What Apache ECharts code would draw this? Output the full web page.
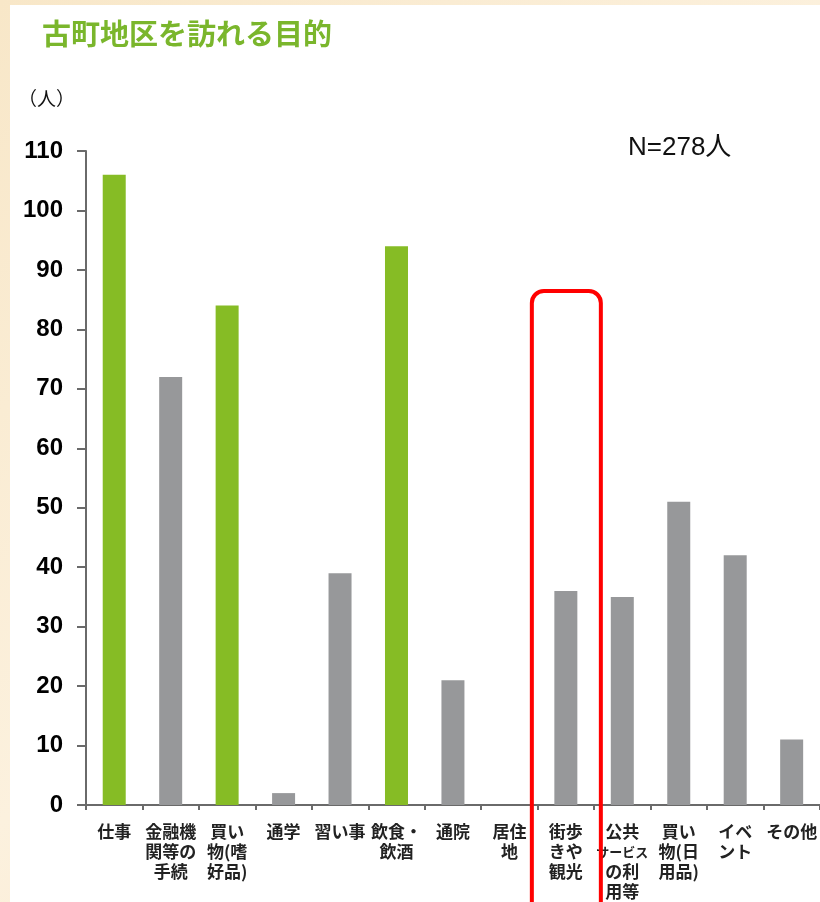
<!DOCTYPE html>
<html>
<head>
<meta charset="utf-8">
<script src="https://cdn.jsdelivr.net/npm/echarts@6/dist/echarts.min.js"></script>
<style>
  html, body { margin: 0; padding: 0; }
  #chart { width: 820px; height: 902px; }
</style>
</head>
<body>
<div id="chart"></div>
<script>
// 古町地区を訪れる目的（複数回答、N=278人）
const categories = [
  '仕事', '金融機\n関等の\n手続', '買い\n物(嗜\n好品)', '通学', '習い事',
  '飲食・\n飲酒', '通院', '居住\n地', '街歩\nきや\n観光',
  '公共\nサービス\nの利\n用等', '買い\n物(日\n用品)', 'イベ\nント', 'その他'
];
const counts = [106, 72, 84, 2, 39, 94, 21, 0, 36, 35, 51, 42, 11];
// 緑で強調する項目
const featured = ['仕事', '買い\n物(嗜\n好品)', '飲食・\n飲酒'];
// 赤枠で囲む項目
const framed = '街歩\nきや\n観光';
const yTicks = { min: 0, max: 110, step: 10 };

const GREEN = '#86bc25';
const GREY = '#97989a';
const AXIS = '#6a6a6a';

const chart = echarts.init(document.getElementById('chart'), null, { renderer: 'canvas' });

const option = {
  backgroundColor: {
    type: 'linear', x: 0, y: 0, x2: 1, y2: 1,
    colorStops: [
      { offset: 0, color: '#f8e7c8' },
      { offset: 0.5, color: '#fcf1de' },
      { offset: 1, color: '#f7e5c4' }
    ]
  },
  animation: false,
  textStyle: { fontFamily: '"Liberation Sans", "Noto Sans CJK JP", sans-serif' },
  graphic: [
    { type: 'rect', z: -10, silent: true,
      shape: { x: 10, y: 5, width: 820, height: 910 },
      style: { fill: '#ffffff' } },
    { type: 'text', left: 42, top: 19,
      style: { text: '古町地区を訪れる目的', fill: '#7ab62c',
        font: 'bold 29px "Noto Sans CJK JP", sans-serif' } },
    { type: 'text', left: 18, top: 89,
      style: { text: '（人）', fill: '#111',
        font: '19px "Noto Sans CJK JP", sans-serif' } },
    { type: 'text', left: 628, top: 135,
      style: { text: 'N=278人', fill: '#111',
        font: '26px "Liberation Sans", "Noto Sans CJK JP", sans-serif' } }
  ],
  grid: { left: 86, top: 151, width: 738, height: 654, containLabel: false },
  xAxis: {
    type: 'category',
    data: categories,
    boundaryGap: true,
    axisLine: { lineStyle: { color: AXIS, width: 2 } },
    axisTick: { show: true, alignWithLabel: false, length: 5, lineStyle: { color: AXIS, width: 2 } },
    axisLabel: {
      interval: 0,
      margin: 17,
      color: '#222',
      fontSize: 17,
      lineHeight: 20,
      fontWeight: 'bold',
      fontFamily: '"Noto Sans CJK JP", sans-serif',
      formatter: v => v.replace('サービス', '{s|サービス}'),
      rich: {
        s: { fontSize: 13, lineHeight: 20, fontWeight: 'bold', color: '#222',
             fontFamily: '"Noto Sans CJK JP", sans-serif' }
      }
    }
  },
  yAxis: {
    type: 'value',
    min: yTicks.min, max: yTicks.max, interval: yTicks.step,
    splitLine: { show: false },
    axisLine: { show: true, lineStyle: { color: AXIS, width: 2 } },
    axisTick: { show: true, length: 9, lineStyle: { color: AXIS, width: 2 } },
    axisLabel: {
      margin: 23,
      color: '#000',
      fontSize: 24,
      fontWeight: 'bold',
      fontFamily: '"Liberation Sans", Arial, sans-serif'
    }
  },
  series: [{
    type: 'bar',
    barWidth: 23,
    data: counts.map((v, i) => ({
      value: v,
      itemStyle: { color: featured.includes(categories[i]) ? GREEN : GREY }
    }))
  }]
};

chart.setOption(option);

// 注目項目を赤い角丸枠で囲む
const idx = categories.indexOf(framed);
const cx = chart.convertToPixel({ xAxisIndex: 0 }, idx);
chart.setOption({
  graphic: option.graphic.concat([{
    type: 'rect', z: 100, silent: true,
    shape: { x: cx - 34, y: 291, width: 69, height: 660, r: 12 },
    style: { fill: 'none', stroke: '#ff0000', lineWidth: 4 }
  }])
});
</script>
</body>
</html>
